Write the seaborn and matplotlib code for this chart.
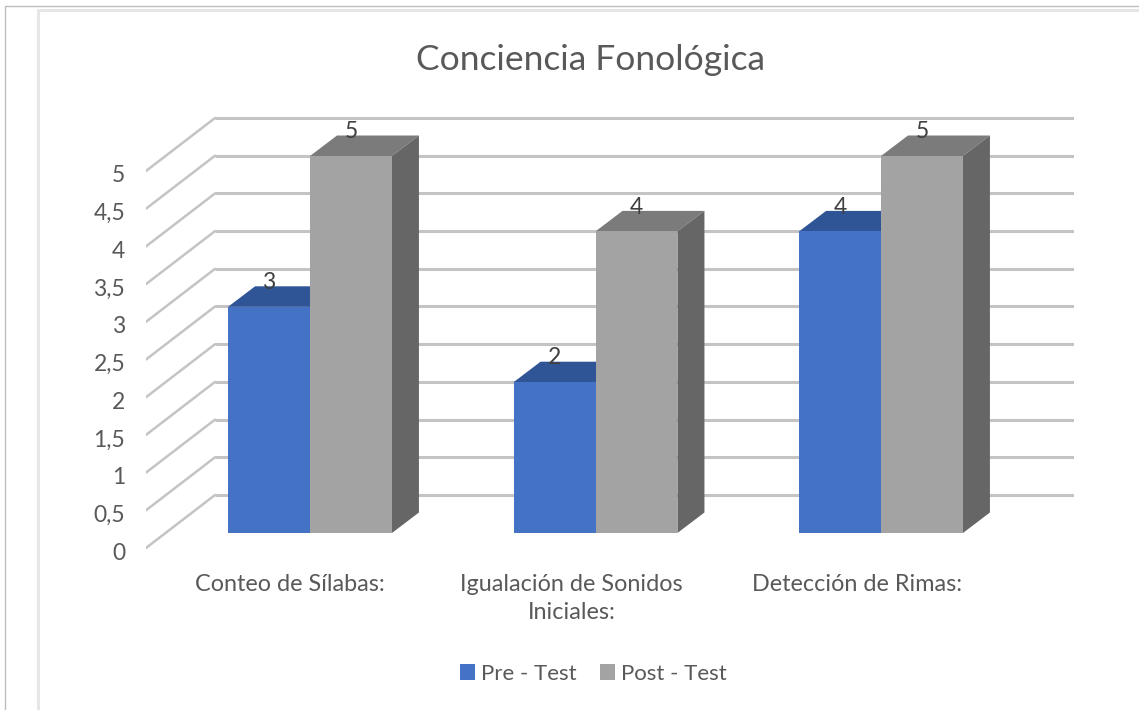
import numpy as np
import pandas as pd
import matplotlib
matplotlib.use("Agg")
import matplotlib.pyplot as plt
from matplotlib.lines import Line2D
import seaborn as sns

categories = ["Conteo de Sílabas:", "Igualación de Sonidos\nIniciales:", "Detección de Rimas:"]
pre_test = [3, 2, 4]
post_test = [5, 4, 5]
y_ticks = [0, 0.5, 1, 1.5, 2, 2.5, 3, 3.5, 4, 4.5, 5]
y_tick_labels = ["0", "0,5", "1", "1,5", "2", "2,5", "3", "3,5", "4", "4,5", "5"]
series_names = ["Pre - Test", "Post - Test"]

text_color = "#595959"
grid_color = "#c4c4c4"
front_colors = ["#4472c4", "#a3a3a3"]
top_colors = ["#2f5597", "#7b7b7b"]
side_colors = ["#2a4d88", "#666666"]

W, H = 1139, 710
sns.set_theme(style="white")
plt.rcParams["font.family"] = ["Lato", "DejaVu Sans"]

df = pd.DataFrame({
    "categoria": categories * 2,
    "valor": pre_test + post_test,
    "serie": [series_names[0]] * 3 + [series_names[1]] * 3,
})

fig = plt.figure(figsize=(W / 100, H / 100), dpi=100)
ax = fig.add_axes([146 / W, (H - 552) / H, 928 / W, 452 / H])

sns.barplot(data=df, x="categoria", y="valor", hue="serie", hue_order=series_names,
            palette=front_colors, saturation=1, width=0.574, gap=0, linewidth=0, ax=ax)

# pixel scale of the bar plane, used for the fake 3d offsets
px_x = 285.5
px_y = 75.4
ax.set_xlim(-164 / px_x, 764 / px_x)
ax.set_ylim(-19 / px_y, 433 / px_y)

floor_y = -15 / px_y
wall_x = -95 / px_x
wall_dy = 38 / px_y
for v in y_ticks:
    ax.plot([ax.get_xlim()[0], wall_x], [v + floor_y, v + wall_dy], color=grid_color, lw=1.8, zorder=1)
    ax.plot([wall_x, ax.get_xlim()[1]], [v + wall_dy, v + wall_dy], color=grid_color, lw=2.2, zorder=1,
            solid_capstyle="butt")

# depth faces built from the bars seaborn drew
depth_x = 27 / px_x
depth_y = 20.5 / px_y
for i, cont in enumerate(ax.containers):
    base_z = 2 + i * 2
    for bar in cont:
        x0 = bar.get_x()
        x1 = x0 + bar.get_width()
        h = bar.get_height()
        bar.set_zorder(base_z + 1)
        ax.fill([x0, x1, x1 + depth_x, x0 + depth_x], [h, h, h + depth_y, h + depth_y],
                color=top_colors[i], lw=0, zorder=base_z)
        ax.fill([x1, x1 + depth_x, x1 + depth_x, x1], [0, depth_y, h + depth_y, h],
                color=side_colors[i], lw=0, zorder=base_z)
    for lab in ax.bar_label(cont, fmt="%d", padding=10, fontsize=16.5, color="#404040"):
        lab.set_zorder(10)

ax.set_yticks([v + floor_y - 3 / px_y for v in y_ticks], y_tick_labels)
ax.set_xticks(np.arange(3) + np.array([-20, -24, -24]) / px_x, categories)
ax.set_ylim(-19 / px_y, 433 / px_y)
ax.tick_params(axis="y", length=0, pad=15, labelsize=16.5, labelcolor=text_color)
ax.tick_params(axis="x", length=0, pad=15.7, labelsize=16.8, labelcolor=text_color)
for lab in ax.get_xticklabels():
    lab.set_linespacing(1.45)
ax.set_xlabel("")
ax.set_ylabel("")
sns.despine(ax=ax, left=True, bottom=True)

handles, labels = ax.get_legend_handles_labels()
ax.legend(handles, labels, ncol=2, frameon=False, loc="center", bbox_to_anchor=(593 / W, 1 - 674 / H),
          bbox_transform=fig.transFigure, fontsize=16, labelcolor=text_color, handlelength=0.7,
          handleheight=0.7, handletextpad=0.25, columnspacing=1.05)

fig.text(590 / W, 1 - 60 / H, "Conciencia Fonológica", ha="center", va="center", fontsize=25.5, color=text_color)

# screenshot frame around the chart
fig.add_artist(Line2D([5 / W, 5 / W, 1], [0, 1 - 6 / H, 1 - 6 / H], color="#bdbdbd", lw=1))
fig.add_artist(Line2D([38 / W, 38 / W, 1], [0, 1 - 10 / H, 1 - 10 / H], color="#e6e6e6", lw=2.2))

fig.savefig("out.png", dpi=100)
